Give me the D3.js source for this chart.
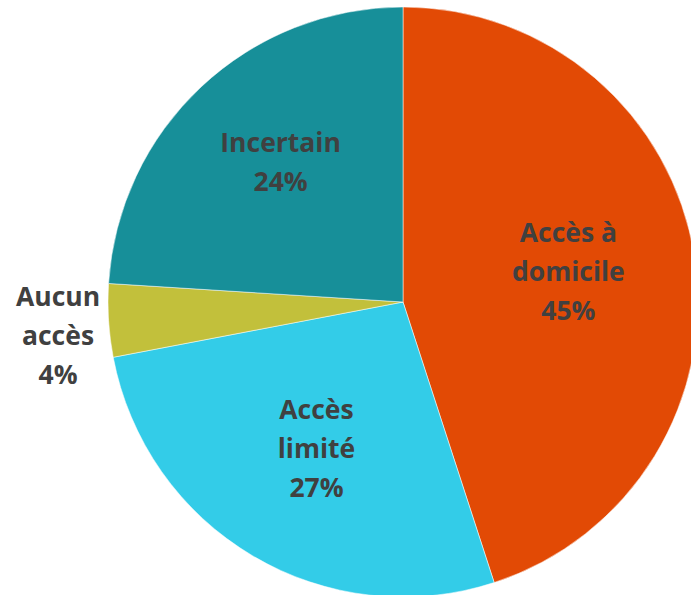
<!DOCTYPE html>
<html>
<head>
<meta charset="utf-8">
<script src="https://cdn.jsdelivr.net/npm/d3@7"></script>
<style>
  html, body { margin: 0; padding: 0; background: #ffffff; }
  svg { display: block; }
  text { font-family: "Open Sans", "Noto Sans", sans-serif; font-weight: 700; fill: #404040; }
</style>
</head>
<body>
<svg id="chart" width="691" height="595"></svg>
<script>
// Slices, clockwise from 12 o'clock
const categories = ["Accès à domicile", "Accès limité", "Aucun accès", "Incertain"];
const values = [45, 27, 4, 24];
const colors = ["#E24A05", "#33CCE8", "#C2C03B", "#178F99"];
// Label lines per slice (last line is the percentage)
const labelLines = [["Accès à", "domicile"], ["Accès", "limité"], ["Aucun", "accès"], ["Incertain"]];

const width = 691, height = 595;
const cx = 403, cy = 302, radius = 295;

const svg = d3.select("#chart");
const g = svg.append("g").attr("transform", `translate(${cx},${cy})`);

const data = categories.map((c, i) => ({ name: c, value: values[i], color: colors[i], lines: labelLines[i] }));

const pie = d3.pie().value(d => d.value).sort(null);
const arcs = pie(data);
const arc = d3.arc().innerRadius(0).outerRadius(radius);

g.selectAll("path.slice")
  .data(arcs)
  .join("path")
  .attr("class", "slice")
  .attr("d", arc)
  .attr("fill", d => d.data.color)
  .attr("stroke", "rgba(255,255,255,0.5)")
  .attr("stroke-width", 1);

// Label placement: radius fraction and angle nudge (degrees); small slice sits outside
const labelRadius = [0.57, 0.576, 1.175, 0.63];
const labelNudge = [-1.4, 0, -2, 2];
const lineH = 39;
g.selectAll("text.lbl")
  .data(arcs)
  .join("text")
  .attr("class", "lbl")
  .attr("text-anchor", "middle")
  .style("font-size", "26.5px")
  .each(function(d, i) {
    const a = (d.startAngle + d.endAngle) / 2 + labelNudge[i] * Math.PI / 180;
    const r = radius * labelRadius[i];
    const x = Math.sin(a) * r;
    const y = -Math.cos(a) * r;
    const lines = d.data.lines.concat([d.data.value + "%"]);
    const t = d3.select(this);
    const y0 = y - (lines.length - 1) * lineH / 2;
    lines.forEach((ln, k) => {
      t.append("tspan")
        .attr("x", x)
        .attr("y", y0 + k * lineH)
        .attr("dy", "0.35em")
        .text(ln);
    });
  });
</script>
</body>
</html>
